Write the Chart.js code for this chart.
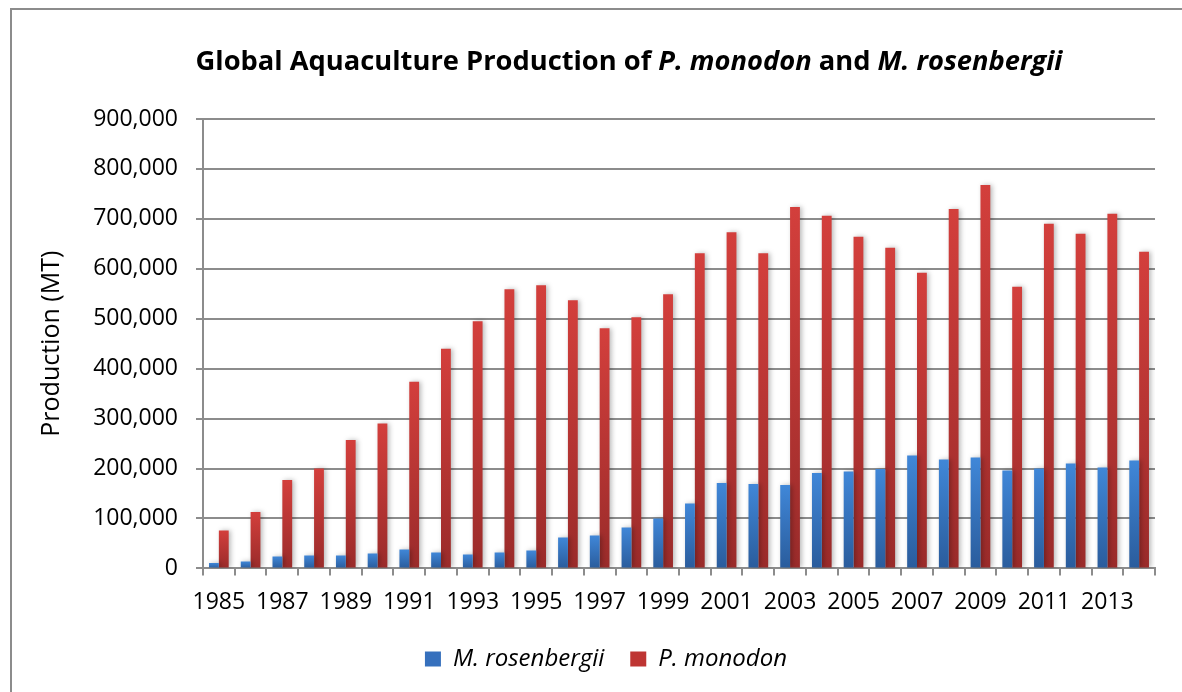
<!DOCTYPE html>
<html>
<head>
<meta charset="utf-8">
<title>Global Aquaculture Production</title>
<script src="https://cdn.jsdelivr.net/npm/chart.js@4.4.1/dist/chart.umd.min.js"></script>
<style>
  html, body { margin: 0; padding: 0; background: #fff; }
  #wrap { width: 1182px; height: 692px; position: relative; }
</style>
</head>
<body>
<div id="wrap"><canvas id="c" width="1182" height="692"></canvas></div>
<script>
// Production in metric tonnes, 1985-2014
const years = ['1985','1986','1987','1988','1989','1990','1991','1992','1993','1994',
               '1995','1996','1997','1998','1999','2000','2001','2002','2003','2004',
               '2005','2006','2007','2008','2009','2010','2011','2012','2013','2014'];
const rosenbergii = [11000, 14000, 24000, 26000, 26000, 30000, 38000, 32000, 28000, 32000,
                     36000, 62000, 66000, 82000, 100000, 130000, 171000, 169000, 167000, 191000,
                     194000, 199000, 226000, 218000, 222000, 196000, 200000, 210000, 202000, 216000];
const monodon = [76000, 113000, 177000, 200000, 257000, 290000, 374000, 440000, 495000, 559000,
                 567000, 537000, 481000, 503000, 549000, 631000, 673000, 631000, 724000, 706000,
                 664000, 642000, 592000, 720000, 768000, 564000, 690000, 670000, 710000, 634000];
const seriesNames = ['M. rosenbergii', 'P. monodon'];
const yTicksMax = 900000;
const yTicksStep = 100000;

const FONT = "'Open Sans', 'Noto Sans', sans-serif";
Chart.defaults.font.family = FONT;
Chart.defaults.color = '#000';

// vertical gradient per bar, light at the top, dark at the base
function barGradient(top, bottom) {
  return function (ctx) {
    const chart = ctx.chart;
    const y = chart.scales && chart.scales.y;
    if (!y || ctx.raw == null || !chart.chartArea) return bottom;
    const yTop = y.getPixelForValue(ctx.raw);
    const yBase = y.getPixelForValue(0);
    if (!isFinite(yTop) || !isFinite(yBase) || yTop === yBase) return bottom;
    const g = chart.ctx.createLinearGradient(0, yTop, 0, yBase);
    g.addColorStop(0, top);
    g.addColorStop(1, bottom);
    return g;
  };
}

const BLUE_TOP = '#4087d8', BLUE_BOT = '#2a5c9c';
const RED_TOP = '#d33f3c', RED_BOT = '#9a2b2a';
const legendSwatches = ['#3670bd', '#be3533'];

// heading with italic species names, y-axis caption, and the frame
const decorations = {
  id: 'decorations',
  beforeDraw(chart) {
    const c = chart.ctx;
    c.save();
    c.fillStyle = '#fff';
    c.fillRect(0, 0, chart.width, chart.height);
    c.strokeStyle = '#8c8c8c';
    c.lineWidth = 2;
    c.beginPath();
    c.moveTo(11, chart.height + 2);
    c.lineTo(11, 9);
    c.lineTo(chart.width + 2, 9);
    c.stroke();
    c.restore();
  },
  afterDraw(chart) {
    const c = chart.ctx;
    c.save();
    const size = 27.3;
    const parts = [
      ['Global Aquaculture Production of ', false],
      ['P. monodon', true],
      [' and ', false],
      ['M. rosenbergii', true]
    ];
    const fontFor = it => (it ? 'italic ' : '') + 'bold ' + size + 'px ' + FONT;
    let total = 0;
    const widths = parts.map(([t, it]) => { c.font = fontFor(it); const w = c.measureText(t).width; total += w; return w; });
    let x = 629 - total / 2;
    c.fillStyle = '#000';
    c.textBaseline = 'alphabetic';
    c.textAlign = 'left';
    parts.forEach(([t, it], i) => { c.font = fontFor(it); c.fillText(t, x, 70); x += widths[i]; });

    // y-axis caption
    c.translate(52, (chart.chartArea.top + chart.chartArea.bottom) / 2);
    c.rotate(-Math.PI / 2);
    c.font = '25px ' + FONT;
    c.textAlign = 'center';
    c.textBaseline = 'middle';
    c.fillText('Production (MT)', 0, 0);
    c.restore();
  }
};

// soft drop shadow behind the bars
const barShadow = {
  id: 'barShadow',
  beforeDatasetsDraw(chart) {
    const c = chart.ctx;
    c.save();
    c.shadowColor = 'rgba(0,0,0,0.28)';
    c.shadowBlur = 5;
    c.shadowOffsetX = 2;
    c.shadowOffsetY = 0;
  },
  afterDatasetsDraw(chart) {
    chart.ctx.restore();
  }
};

new Chart(document.getElementById('c'), {
  type: 'bar',
  data: {
    labels: years,
    datasets: [
      { label: seriesNames[0], data: rosenbergii, backgroundColor: barGradient(BLUE_TOP, BLUE_BOT), borderWidth: 0 },
      { label: seriesNames[1], data: monodon, backgroundColor: barGradient(RED_TOP, RED_BOT), borderWidth: 0 }
    ]
  },
  options: {
    responsive: false,
    animation: false,
    devicePixelRatio: 1,
    layout: { padding: { left: 57, right: 27, top: 119, bottom: 11 } },
    datasets: { bar: { categoryPercentage: 0.62, barPercentage: 1.0 } },
    plugins: {
      title: { display: false },
      tooltip: { enabled: false },
      legend: {
        position: 'bottom',
        labels: {
          font: { size: 24, style: 'italic', family: FONT },
          color: '#000',
          boxWidth: 16,
          boxHeight: 15,
          padding: 26,
          generateLabels(chart) {
            return chart.data.datasets.map((ds, i) => ({
              text: ds.label,
              fillStyle: legendSwatches[i],
              strokeStyle: 'rgba(0,0,0,0)',
              lineWidth: 0,
              hidden: false,
              datasetIndex: i,
              fontColor: '#000'
            }));
          }
        }
      }
    },
    scales: {
      x: {
        offset: true,
        afterFit(scale) { scale.height = scale.height - 8; },
        grid: {
          offset: true,
          drawOnChartArea: false,
          drawTicks: true,
          tickLength: 7,
          color: '#8c8c8c',
          lineWidth: 2
        },
        border: { display: true, color: '#8c8c8c', width: 2 },
        ticks: {
          autoSkip: false,
          maxRotation: 0,
          minRotation: 0,
          padding: 13,
          font: { size: 23 },
          color: '#000',
          callback(value, index) { return index % 2 === 0 ? this.getLabelForValue(value) : ''; }
        }
      },
      y: {
        min: 0,
        max: yTicksMax,
        afterFit(scale) { scale.width = 146; },
        grid: { color: '#8c8c8c', lineWidth: 2, tickLength: 7, drawTicks: true },
        border: { display: true, color: '#8c8c8c', width: 2 },
        ticks: {
          stepSize: yTicksStep,
          padding: 18,
          font: { size: 23 },
          color: '#000',
          callback(v) { return v.toLocaleString('en-US'); }
        }
      }
    }
  },
  plugins: [decorations, barShadow]
});
</script>
</body>
</html>
